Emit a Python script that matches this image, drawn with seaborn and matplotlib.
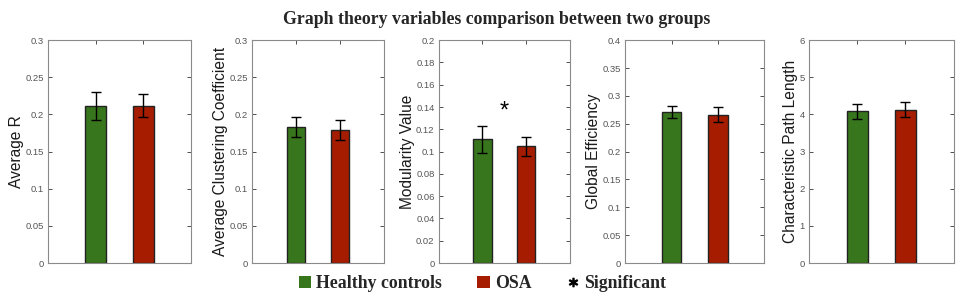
import matplotlib
matplotlib.use('Agg')
import matplotlib.pyplot as plt
from matplotlib.patches import Patch
from matplotlib.lines import Line2D
import seaborn as sns
import pandas as pd

groups = ['Healthy controls', 'OSA']
metrics = ['Average R', 'Average Clustering Coefficient', 'Modularity Value',
           'Global Efficiency', 'Characteristic Path Length']
means_hc = [0.211, 0.183, 0.111, 0.271, 4.08]
means_osa = [0.212, 0.179, 0.105, 0.266, 4.13]
err_hc = [0.019, 0.013, 0.012, 0.0115, 0.19]
err_osa = [0.016, 0.014, 0.0085, 0.0135, 0.20]
significant = [False, False, True, False, False]
star_height = [None, None, 0.14, None, None]
ytick_vals = [
    [0, 0.05, 0.1, 0.15, 0.2, 0.25, 0.3],
    [0, 0.05, 0.1, 0.15, 0.2, 0.25, 0.3],
    [0, 0.02, 0.04, 0.06, 0.08, 0.1, 0.12, 0.14, 0.16, 0.18, 0.2],
    [0, 0.05, 0.1, 0.15, 0.2, 0.25, 0.3, 0.35, 0.4],
    [0, 1, 2, 3, 4, 5, 6],
]
ytick_labels = [
    ['0', '0.05', '0.1', '0.15', '0.2', '0.25', '0.3'],
    ['0', '0.05', '0.1', '0.15', '0.2', '0.25', '0.3'],
    ['0', '0.02', '0.04', '0.06', '0.08', '0.1', '0.12', '0.14', '0.16', '0.18', '0.2'],
    ['0', '0.05', '0.1', '0.15', '0.2', '0.25', '0.3', '0.35', '0.4'],
    ['0', '1', '2', '3', '4', '5', '6'],
]

green = '#38761d'
red = '#a61c00'
palette = {'Healthy controls': green, 'OSA': red}

# axes boxes in figure fraction (left, bottom, width, height)
boxes = [
    (0.0491, 0.129, 0.1464, 0.738),
    (0.258, 0.129, 0.135, 0.738),
    (0.449, 0.129, 0.134, 0.738),
    (0.640, 0.129, 0.142, 0.738),
    (0.828, 0.129, 0.148, 0.738),
]

sns.set_style('white')
plt.rcParams['font.family'] = ['Liberation Sans', 'DejaVu Sans']

fig = plt.figure(figsize=(9.77, 3.02), dpi=100)

for i, name in enumerate(metrics):
    ax = fig.add_axes(boxes[i])
    df = pd.DataFrame({'group': groups, 'value': [means_hc[i], means_osa[i]]})
    sns.barplot(data=df, x='group', y='value', hue='group', palette=palette,
                width=0.43, edgecolor='#222222', linewidth=1.0, saturation=1,
                legend=False, ax=ax)
    ax.errorbar([0, 1], [means_hc[i], means_osa[i]], yerr=[err_hc[i], err_osa[i]],
                fmt='none', ecolor='black', elinewidth=1.0, capsize=3.5, capthick=1.0)
    if significant[i]:
        ax.annotate('*', xy=(0.5, star_height[i]), xytext=(0, -3),
                    textcoords='offset points', ha='center', va='center',
                    fontsize=17, color='black', family='Liberation Sans')
    ax.set_xlim(-1, 2)
    ax.set_ylim(ytick_vals[i][0], ytick_vals[i][-1])
    ax.set_yticks(ytick_vals[i])
    ax.set_yticklabels(ytick_labels[i])
    ax.set_xticks([0, 1])
    ax.set_xticklabels([])
    ax.set_xlabel('')
    ax.set_ylabel(name, fontsize=11.2, color='#1a1a1a', labelpad=1)
    ax.tick_params(axis='both', direction='in', length=3, width=0.6, color='#333333',
                   labelsize=6.8, labelcolor='#555555', top=True, right=True,
                   bottom=True, left=True, pad=3)
    for s in ax.spines.values():
        s.set_color('#8a8a8a')
        s.set_linewidth(0.8)

fig.suptitle('Graph theory variables comparison between two groups', x=0.508, y=0.965,
             fontsize=12.8, fontweight='bold', family='Liberation Serif')

handles = [
    Patch(facecolor=green, edgecolor='none'),
    Patch(facecolor=red, edgecolor='none'),
    Line2D([], [], linestyle='none', marker='$*$', color='black', markersize=6),
]
fig.legend(handles, ['Healthy controls', 'OSA', 'Significant'], loc='center',
           bbox_to_anchor=(0.494, 0.06), ncol=3, frameon=False, handlelength=0.68,
           handleheight=0.68, handletextpad=0.3, columnspacing=2.0,
           prop={'family': 'Liberation Serif', 'weight': 'bold', 'size': 12.8})

fig.savefig('out.png', dpi=100)
